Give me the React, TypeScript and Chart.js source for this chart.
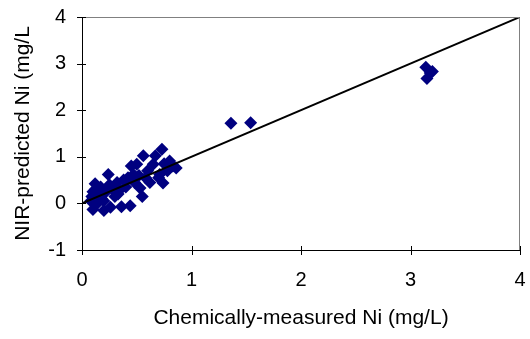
import React, { useEffect, useRef } from "react";
import { Chart, registerables } from "chart.js";

Chart.register(...registerables);

// Chemically-measured Ni (x) vs NIR-predicted Ni (y), mg/L
const measuredNi: number[] = [
  0.08, 0.09, 0.10, 0.12, 0.10, 0.14, 0.15, 0.17, 0.18, 0.20,
  0.22, 0.24, 0.25, 0.26, 0.28, 0.30, 0.32, 0.35, 0.36, 0.38,
  0.40, 0.42, 0.44, 0.45, 0.47, 0.48, 0.50, 0.52, 0.53, 0.55,
  0.56, 0.58, 0.60, 0.62, 0.65, 0.67, 0.70, 0.71, 0.73, 0.74,
  0.75, 0.78, 0.80, 0.83, 0.86, 0.12, 0.20, 0.33,
  1.36, 1.54,
  3.14, 3.18, 3.15, 3.20,
];
const predictedNi: number[] = [
  0.05, 0.15, 0.25, 0.30, -0.13, 0.00, 0.20, 0.35, 0.10, -0.15,
  0.25, 0.62, 0.40, -0.08, 0.30, 0.15, 0.45, 0.30, -0.07, 0.50,
  0.35, 0.55, -0.05, 0.80, 0.62, 0.45, 0.84, 0.60, 0.33, 0.15,
  1.02, 0.55, 0.70, 0.45, 0.84, 1.02, 0.55, 0.62, 1.16, 0.44,
  0.85, 0.70, 0.91, 0.80, 0.76, 0.42, 0.05, 0.20,
  1.72, 1.73,
  2.92, 2.80, 2.68, 2.83,
];

// 1:1 reference line
const lineX: number[] = [0, 4];
const lineY: number[] = [0, 4];

const xTicks: number[] = [0, 1, 2, 3, 4];
const yTicks: number[] = [-1, 0, 1, 2, 3, 4];

const xTitle = "Chemically-measured Ni (mg/L)";
const yTitle = "NIR-predicted Ni (mg/L";

const FONT = "'Liberation Sans', Arial, sans-serif";

export default function App() {
  const canvasRef = useRef<HTMLCanvasElement | null>(null);

  useEffect(() => {
    const canvas = canvasRef.current;
    if (!canvas) return;

    // grey top/right edges of the plot box and tick marks that cross the axes
    const frame = {
      id: "frame",
      afterDraw(chart: any) {
        const { ctx, chartArea, scales } = chart;
        ctx.save();
        ctx.lineWidth = 1;
        ctx.strokeStyle = "#808080";
        ctx.beginPath();
        ctx.moveTo(chartArea.left, chartArea.top + 0.5);
        ctx.lineTo(chartArea.right - 0.5, chartArea.top + 0.5);
        ctx.lineTo(chartArea.right - 0.5, chartArea.bottom);
        ctx.stroke();

        ctx.strokeStyle = "#000000";
        ctx.beginPath();
        for (const v of xTicks) {
          const px = Math.round(scales.x.getPixelForValue(v)) + 0.5;
          ctx.moveTo(px, chartArea.bottom - 4);
          ctx.lineTo(px, chartArea.bottom + 5);
        }
        for (const v of yTicks) {
          const py = Math.round(scales.y.getPixelForValue(v)) + 0.5;
          ctx.moveTo(chartArea.left - 5, py);
          ctx.lineTo(chartArea.left + 4, py);
        }
        ctx.stroke();
        ctx.restore();
      },
    };

    const chart = new Chart(canvas, {
      type: "scatter",
      data: {
        datasets: [
          {
            type: "line",
            data: lineX.map((x, i) => ({ x, y: lineY[i] })),
            borderColor: "#000000",
            borderWidth: 2,
            pointRadius: 0,
            fill: false,
            order: 1,
          } as any,
          {
            data: measuredNi.map((x, i) => ({ x, y: predictedNi[i] })),
            pointStyle: "rectRot",
            pointRadius: 6.5,
            backgroundColor: "#000080",
            borderColor: "#000080",
            borderWidth: 0,
            order: 2,
          },
        ],
      },
      options: {
        animation: false,
        responsive: false,
        maintainAspectRatio: false,
        layout: { padding: { top: 17, right: 10, left: 7, bottom: 4 } },
        plugins: {
          legend: { display: false },
          tooltip: { enabled: false },
        },
        scales: {
          x: {
            type: "linear",
            min: 0,
            max: 4,
            afterBuildTicks(scale: any) {
              scale.ticks = xTicks.map((v) => ({ value: v }));
            },
            afterFit(scale: any) {
              scale.height = 85;
              scale.paddingLeft = 0;
              scale.paddingRight = 0;
            },
            grid: { drawOnChartArea: false, drawTicks: false },
            border: { display: true, color: "#000000", width: 1 },
            ticks: {
              color: "#000000",
              font: { family: FONT, size: 20 },
              padding: 18,
              maxRotation: 0,
            },
            title: {
              display: true,
              text: xTitle,
              color: "#000000",
              font: { family: FONT, size: 21 },
            },
          },
          y: {
            type: "linear",
            min: -1,
            max: 4,
            afterBuildTicks(scale: any) {
              scale.ticks = yTicks.map((v) => ({ value: v }));
            },
            afterFit(scale: any) {
              scale.width = 75;
              scale.paddingTop = 0;
              scale.paddingBottom = 0;
            },
            grid: { drawOnChartArea: false, drawTicks: false },
            border: { display: true, color: "#000000", width: 1 },
            ticks: {
              color: "#000000",
              font: { family: FONT, size: 20 },
              padding: 16,
            },
            title: {
              display: true,
              text: yTitle,
              color: "#000000",
              font: { family: FONT, size: 21 },
            },
          },
        },
      },
      plugins: [frame],
    });

    return () => chart.destroy();
  }, []);

  return (
    <div
      style={{
        position: "fixed",
        left: 0,
        top: 0,
        width: 530,
        height: 339,
        background: "#ffffff",
      }}
    >
      <canvas ref={canvasRef} width={530} height={339} />
    </div>
  );
}
